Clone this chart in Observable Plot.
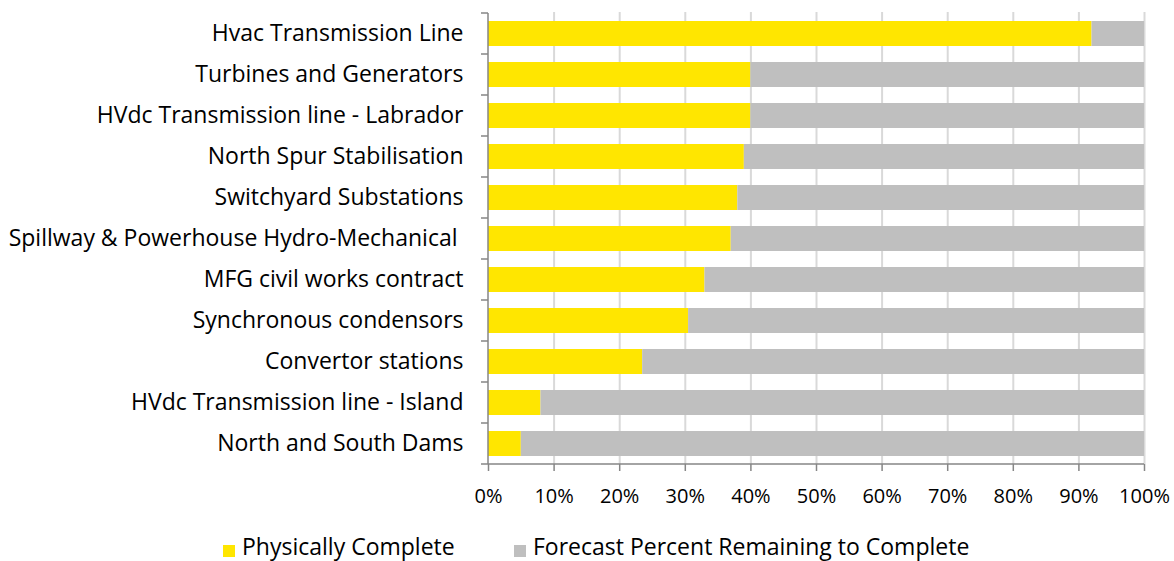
<!DOCTYPE html>
<html><head><meta charset="utf-8">
<script src="https://cdn.jsdelivr.net/npm/d3@7"></script>
<script src="https://cdn.jsdelivr.net/npm/@observablehq/plot@0.6"></script>
<style>
body{margin:0;background:#fff;font-family:"Open Sans",sans-serif;}
#wrap{position:relative;width:1174px;height:561px;overflow:hidden;}
.item{position:absolute;top:535px;display:flex;align-items:flex-start;font-size:23px;line-height:23px;color:#000;white-space:nowrap;}
.sw{display:inline-block;width:12px;height:12px;margin-top:10px;margin-right:7px;}
</style></head><body><div id="wrap"></div>
<script>
const categories = [
  "Hvac Transmission Line",
  "Turbines and Generators",
  "HVdc Transmission line - Labrador",
  "North Spur Stabilisation",
  "Switchyard Substations",
  "Spillway & Powerhouse Hydro-Mechanical ",
  "MFG civil works contract",
  "Synchronous condensors",
  "Convertor stations",
  "HVdc Transmission line - Island",
  "North and South Dams"
];
const physicallyComplete = [92, 40, 40, 39, 38, 37, 33, 30.5, 23.5, 8, 5];
const seriesNames = ["Physically Complete", "Forecast Percent Remaining to Complete"];
const seriesColors = ["#FFE600", "#BFBFBF"];
const xTicks = [0, 10, 20, 30, 40, 50, 60, 70, 80, 90, 100];

const data = categories.flatMap((c, i) => [
  {category: c, series: seriesNames[0], value: physicallyComplete[i]},
  {category: c, series: seriesNames[1], value: 100 - physicallyComplete[i]}
]);

const axisColor = "#868686";

function boundaryTicks(index, scales, values, dims) {
  const y = scales.y;
  const bw = typeof y.bandwidth === "function" ? y.bandwidth() : y.bandwidth;
  const step = y(categories[1]) - y(categories[0]);
  const gap = (step - bw) / 2;
  const x0 = dims.marginLeft;
  const yBottom = dims.height - dims.marginBottom;
  const g = d3.create("svg:g").attr("stroke", axisColor).attr("stroke-width", 1.5);
  const ys = categories.map(c => y(c) - gap);
  ys.push(y(categories[categories.length - 1]) + bw + gap);
  for (const yy of ys) {
    g.append("line").attr("x1", x0 - 7).attr("x2", x0).attr("y1", yy).attr("y2", yy);
  }
  g.append("line").attr("x1", x0).attr("x2", x0).attr("y1", ys[0]).attr("y2", yBottom);
  g.append("line").attr("x1", x0).attr("x2", dims.width - dims.marginRight).attr("y1", yBottom).attr("y2", yBottom);
  return g.node();
}

const chart = Plot.plot({
  width: 1174,
  height: 520,
  marginLeft: 488,
  marginRight: 30,
  marginTop: 12,
  marginBottom: 56,
  style: {fontFamily: "Open Sans", fontSize: "20px", color: "#000", background: "#fff"},
  x: {domain: [0, 100], label: null},
  y: {domain: categories, paddingInner: 0.4, paddingOuter: 0.2, label: null},
  color: {domain: seriesNames, range: seriesColors},
  marks: [
    Plot.gridX(xTicks.filter(d => d > 0), {stroke: "#D9D9D9", strokeOpacity: 1, strokeWidth: 2}),
    Plot.barX(data, Plot.stackX({y: "category", x: "value", fill: "series", order: seriesNames})),
    Plot.axisX(xTicks, {tickSize: 7, tickPadding: 17, stroke: axisColor, strokeWidth: 1.5, tickFormat: d => d + "%", fontSize: 20, fill: "#000", label: null}),
    Plot.axisY({tickSize: 0, tickPadding: 25, fontSize: 23, fill: "#000", label: null}),
    boundaryTicks
  ]
});

const wrap = document.getElementById("wrap");
wrap.appendChild(chart);
const legendLeft = [223, 514];
seriesNames.forEach((name, i) => {
  const item = document.createElement("div");
  item.className = "item";
  item.style.left = legendLeft[i] + "px";
  const sw = document.createElement("span");
  sw.className = "sw";
  sw.style.background = seriesColors[i];
  const t = document.createElement("span");
  t.textContent = name;
  item.appendChild(sw); item.appendChild(t);
  wrap.appendChild(item);
});
</script></body></html>
